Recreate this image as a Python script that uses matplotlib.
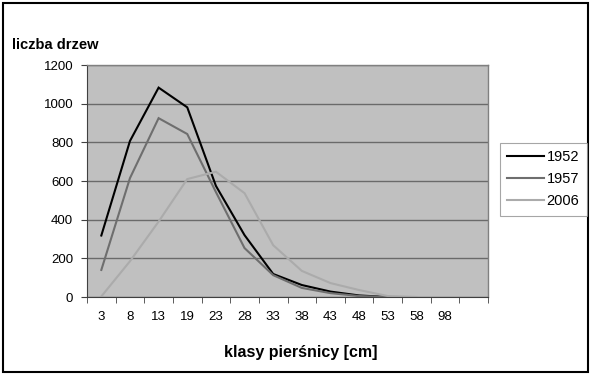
import numpy as np
import matplotlib.pyplot as plt
from matplotlib.patches import Rectangle

# diameter classes (last category has no label)
classes = ["3", "8", "13", "19", "23", "28", "33", "38", "43", "48", "53", "58", "98", ""]
trees_1952 = [318, 807, 1083, 981, 575, 320, 119, 62, 28, 8, 0, np.nan, np.nan, np.nan]
trees_1957 = [140, 615, 925, 843, 543, 253, 113, 47, 20, 5, 0, np.nan, np.nan, np.nan]
trees_2006 = [3, 185, 390, 610, 648, 537, 268, 135, 72, 36, 5, 0, np.nan, np.nan]
years = ["1952", "1957", "2006"]
colors = ["#000000", "#6e6e6e", "#ababab"]

plt.rcParams["font.family"] = ["Liberation Sans", "DejaVu Sans"]

fig = plt.figure(figsize=(5.93, 3.75), dpi=100)
ax = fig.add_axes([87 / 593, 1 - 297 / 375, 401 / 593, 232 / 375])
ax.set_facecolor("#c0c0c0")

x = np.arange(len(classes))
for vals, lab, c in zip([trees_1952, trees_1957, trees_2006], years, colors):
    ax.plot(x, vals, color=c, lw=1.5, label=lab, solid_joinstyle="miter")

ax.set_xlim(-0.5, len(classes) - 0.5)
ax.set_ylim(0, 1200)
ax.set_yticks(range(0, 1201, 200))
ax.yaxis.grid(True, color="#6a6a6a", lw=1)
ax.set_axisbelow(True)

ax.set_xticks(x)
ax.set_xticklabels(classes, fontsize=9.5)
ax.set_xticks(np.arange(-0.5, len(classes), 1), minor=True)
ax.tick_params(axis="x", which="major", length=0, pad=10)
ax.tick_params(axis="x", which="minor", length=4, direction="out", color="#404040")
ax.tick_params(axis="y", length=4, direction="out", labelsize=9.5, pad=6, color="#404040")

for side in ["top", "right"]:
    ax.spines[side].set_color("#808080")
    ax.spines[side].set_linewidth(1)
ax.spines["left"].set_color("#404040")
ax.spines["bottom"].set_color("#404040")

fig.text(12 / 593, 1 - 45 / 375, "liczba drzew", fontsize=10.5, fontweight="bold",
         va="center", ha="left")
fig.text(301 / 593, 1 - 353 / 375, "klasy pierśnicy [cm]", fontsize=11.5, fontweight="bold",
         va="center", ha="center")

leg = fig.legend(loc="upper left", bbox_to_anchor=(500 / 593, 1 - 143 / 375),
                 frameon=True, fancybox=False, fontsize=10.5, handlelength=2.5,
                 borderpad=0.5, labelspacing=0.55, handletextpad=0.2, borderaxespad=0)
leg.get_frame().set_edgecolor("#909090")
leg.get_frame().set_linewidth(0.8)

fig.patches.append(Rectangle((3 / 593, 3 / 375), 585 / 593, 369 / 375, transform=fig.transFigure,
                             fill=False, edgecolor="black", lw=1.5))

fig.savefig("out.png", dpi=100)
